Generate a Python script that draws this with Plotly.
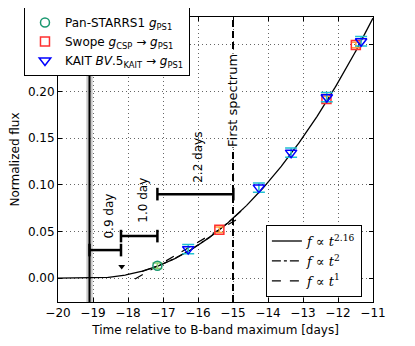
import numpy as np
import plotly.graph_objects as go

# photometry (days from B max, normalized flux)
ps1_t = [-17.16]
ps1_f = [0.0132]
ps1_err = [0.003]

swope_t = [-15.39, -12.33, -11.49]
swope_f = [0.0518, 0.192, 0.250]
swope_err = [0.003, 0.003, 0.003]

kait_t = [-16.28, -14.26, -13.34, -12.32, -11.34]
kait_f = [0.031, 0.097, 0.1345, 0.194, 0.254]
kait_err = [0.005, 0.005, 0.005, 0.005, 0.005]

# non-detection
limit_t = [-18.18]
limit_f = [0.0125]

# fit parameters
t_expl = -19.1
t_expl_err = 0.09
alpha, amp = 2.16, 0.00304
t_quad0, amp_quad = -18.9, 0.0042
t_lin0, slope_lin = -17.75, 0.022
t_spec = -15.0

# interval bars
bar_start = [-19.1, -18.2, -17.16]
bar_end = [-18.2, -17.16, -14.99]
bar_y = [0.030, 0.045, 0.090]
bar_text = ["0.9 day", "1.0 day", "2.2 days"]
bar_text_x = [-18.57, -17.57, -16.0]
bar_text_y = [0.066, 0.083, 0.129]

t = np.linspace(-20, -11, 400)
f_pow = amp * np.clip(t - t_expl, 0, None) ** alpha
tq = np.linspace(-17.6, -14.7, 100)
f_quad = amp_quad * (tq - t_quad0) ** 2
tl = np.linspace(-17.8, -14.7, 50)
f_lin = slope_lin * (tl - t_lin0)

fig = go.Figure()

fig.add_vrect(x0=t_expl - t_expl_err, x1=t_expl + t_expl_err,
              fillcolor="#c8c8c8", line_width=0, layer="below")
fig.add_vline(x=t_expl, line=dict(color="black", width=2))
fig.add_vline(x=t_spec, line=dict(color="black", width=2, dash="7px,4px"))

fig.add_trace(go.Scatter(x=t, y=f_pow, mode="lines", line=dict(color="black", width=1.3),
                         name="<i>f</i> ∝ <i>t</i><sup>2.16</sup>", legend="legend2"))
fig.add_trace(go.Scatter(x=tq, y=f_quad, mode="lines", line=dict(color="black", width=1.2, dash="dashdot"),
                         name="<i>f</i> ∝ <i>t</i><sup>2</sup>", legend="legend2"))
fig.add_trace(go.Scatter(x=tl, y=f_lin, mode="lines", line=dict(color="black", width=1.2, dash="dash"),
                         name="<i>f</i> ∝ <i>t</i><sup>1</sup>", legend="legend2"))

for x0, x1, y in zip(bar_start, bar_end, bar_y):
    fig.add_trace(go.Scatter(x=[x0, x1], y=[y, y], mode="lines+markers",
                             line=dict(color="black", width=2.5),
                             marker=dict(symbol="line-ns", size=9, line=dict(color="black", width=2.5)),
                             showlegend=False))

fig.add_trace(go.Scatter(x=limit_t, y=limit_f, mode="markers",
                         marker=dict(symbol="triangle-down", size=6, color="black"), showlegend=False))

fig.add_trace(go.Scatter(x=ps1_t, y=ps1_f, mode="markers", name="Pan-STARRS1 <i>g</i><sub>PS1</sub>",
                         error_y=dict(type="data", array=ps1_err, color="#8fd16f", thickness=1.5, width=5),
                         marker=dict(symbol="circle-open", size=9, color="#1a9870", line=dict(width=1.5))))
fig.add_trace(go.Scatter(x=swope_t, y=swope_f, mode="markers",
                         name="Swope <i>g</i><sub>CSP</sub> → <i>g</i><sub>PS1</sub>",
                         error_y=dict(type="data", array=swope_err, color="#ffa040", thickness=1.5, width=5),
                         marker=dict(symbol="square-open", size=9, color="#ff3030", line=dict(width=1.5))))
fig.add_trace(go.Scatter(x=kait_t, y=kait_f, mode="markers",
                         name="KAIT <i>BV</i>.5<sub>KAIT</sub> → <i>g</i><sub>PS1</sub>",
                         error_y=dict(type="data", array=kait_err, color="#20c0d0", thickness=1.5, width=6),
                         marker=dict(symbol="triangle-down-open", size=10, color="#0000ff", line=dict(width=1.5))))

for x, y, s in zip(bar_text_x, bar_text_y, bar_text):
    fig.add_annotation(x=x, y=y, text=s, textangle=-90, showarrow=False, font=dict(size=12))
fig.add_annotation(x=t_spec, y=0.19, text="First spectrum", textangle=-90, bgcolor="white",
                   borderpad=0, showarrow=False, font=dict(size=13))

axis_common = dict(showline=True, linecolor="black", linewidth=1, mirror="ticks",
                   ticks="inside", ticklen=4, tickcolor="black",
                   showgrid=True, gridcolor="#666666", griddash="1px,3px", gridwidth=1,
                   zeroline=False, tickfont=dict(size=12, color="black"))

fig.update_xaxes(range=[-20, -11], dtick=1, title=dict(text="Time relative to B-band maximum [days]",
                 font=dict(size=12), standoff=6), **axis_common)
fig.update_yaxes(range=[-0.0257, 0.28], dtick=0.05, tickformat=".2f",
                 title=dict(text="Normalized flux", font=dict(size=12), standoff=8), **axis_common)

# page body adds an 8px offset, so margins are shifted to compensate
fig.update_layout(
    width=415, height=346,
    margin=dict(l=50, r=50, t=9, b=52, autoexpand=False),
    plot_bgcolor="white", paper_bgcolor="white",
    font=dict(family="DejaVu Sans", color="black"),
    legend=dict(x=-0.108, y=1.035, xanchor="left", yanchor="top", bgcolor="white",
                bordercolor="black", borderwidth=1, font=dict(size=12),
                itemwidth=30, tracegroupgap=0),
    legend2=dict(x=0.66, y=0.27, xanchor="left", yanchor="top", bgcolor="white",
                 bordercolor="black", borderwidth=1, font=dict(size=13, family="DejaVu Serif")),
)

fig.write_html("out.html")
